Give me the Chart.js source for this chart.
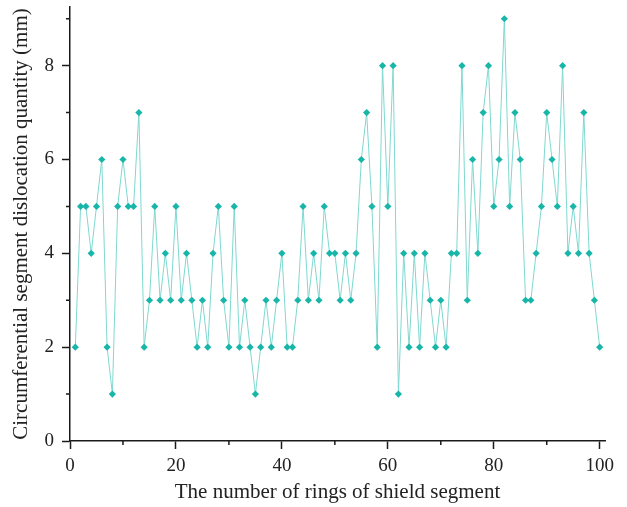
<!DOCTYPE html>
<html lang="en">
<head>
    <meta charset="UTF-8">
    <title>Circumferential segment dislocation</title>
    <script src="https://cdn.jsdelivr.net/npm/chart.js"></script>
    <style>
        html, body { margin: 0; padding: 0; background: #fff; }
        #wrap { width: 627px; height: 507px; }
    </style>
</head>
<body>

<div id="wrap">
    <canvas id="grafico" width="627" height="507"></canvas>
</div>

<script>
    // ring number 1..100
    const rings = [
        1, 2, 3, 4, 5, 6, 7, 8, 9, 10,
        11, 12, 13, 14, 15, 16, 17, 18, 19, 20,
        21, 22, 23, 24, 25, 26, 27, 28, 29, 30,
        31, 32, 33, 34, 35, 36, 37, 38, 39, 40,
        41, 42, 43, 44, 45, 46, 47, 48, 49, 50,
        51, 52, 53, 54, 55, 56, 57, 58, 59, 60,
        61, 62, 63, 64, 65, 66, 67, 68, 69, 70,
        71, 72, 73, 74, 75, 76, 77, 78, 79, 80,
        81, 82, 83, 84, 85, 86, 87, 88, 89, 90,
        91, 92, 93, 94, 95, 96, 97, 98, 99, 100
    ];
    // dislocation (mm)
    const dislocation = [
        2, 5, 5, 4, 5, 6, 2, 1, 5, 6,
        5, 5, 7, 2, 3, 5, 3, 4, 3, 5,
        3, 4, 3, 2, 3, 2, 4, 5, 3, 2,
        5, 2, 3, 2, 1, 2, 3, 2, 3, 4,
        2, 2, 3, 5, 3, 4, 3, 5, 4, 4,
        3, 4, 3, 4, 6, 7, 5, 2, 8, 5,
        8, 1, 4, 2, 4, 2, 4, 3, 2, 3,
        2, 4, 4, 8, 3, 6, 4, 7, 8, 5,
        6, 9, 5, 7, 6, 3, 3, 4, 5, 7,
        6, 5, 8, 4, 5, 4, 7, 4, 3, 2
    ];
    const xTicks = [0, 20, 40, 60, 80, 100];
    const xMinorTicks = [10, 30, 50, 70, 90];
    const yTicks = [0, 2, 4, 6, 8];
    const yMinorTicks = [1, 3, 5, 7, 9];

    const fonte = '"Liberation Serif", "DejaVu Serif", serif';
    const corEixo = '#1a1a1a';

    // short ticks between the labelled ones
    const minorTicksPlugin = {
        id: 'minorTicks',
        afterDraw(chart) {
            const ctx = chart.ctx;
            const x = chart.scales.x;
            const y = chart.scales.y;
            ctx.save();
            ctx.strokeStyle = corEixo;
            ctx.lineWidth = 1.5;
            ctx.beginPath();
            xMinorTicks.forEach(v => {
                const px = x.getPixelForValue(v);
                ctx.moveTo(px, x.top);
                ctx.lineTo(px, x.top + 4);
            });
            yMinorTicks.forEach(v => {
                const py = y.getPixelForValue(v);
                ctx.moveTo(y.right, py);
                ctx.lineTo(y.right - 4, py);
            });
            ctx.stroke();
            ctx.restore();
        }
    };

    new Chart(document.getElementById('grafico'), {
        type: 'line',
        data: {
            datasets: [{
                data: rings.map((r, i) => ({ x: r, y: dislocation[i] })),
                borderColor: '#7fd8d0',
                borderWidth: 1,
                pointStyle: 'rectRot',
                pointRadius: 3.6,
                pointBackgroundColor: '#17b6a8',
                pointBorderWidth: 0,
                tension: 0,
                clip: false
            }]
        },
        options: {
            responsive: false,
            animation: false,
            layout: { padding: { top: 7, right: 22, left: 0, bottom: 0 } },
            plugins: {
                legend: { display: false },
                tooltip: { enabled: false }
            },
            scales: {
                x: {
                    type: 'linear',
                    min: 0,
                    max: 101,
                    afterBuildTicks: s => { s.ticks = xTicks.map(v => ({ value: v })); },
                    afterFit: s => { s.height = 66; s.paddingLeft = 0; s.paddingRight = 0; },
                    grid: {
                        drawOnChartArea: false,
                        drawTicks: true,
                        tickLength: 8,
                        tickWidth: 1.5,
                        tickColor: corEixo
                    },
                    border: { display: true, color: corEixo, width: 1.5 },
                    ticks: {
                        color: '#222',
                        padding: 6,
                        maxRotation: 0,
                        font: { family: fonte, size: 19 }
                    },
                    title: {
                        display: true,
                        text: 'The number of rings of shield segment',
                        color: '#222',
                        padding: { top: 0, bottom: 2 },
                        font: { family: fonte, size: 21 }
                    }
                },
                y: {
                    min: 0,
                    max: 9.25,
                    afterBuildTicks: s => { s.ticks = yTicks.map(v => ({ value: v })); },
                    afterFit: s => { s.width = 70; s.paddingTop = 0; s.paddingBottom = 0; },
                    grid: {
                        drawOnChartArea: false,
                        drawTicks: true,
                        tickLength: 8,
                        tickWidth: 1.5,
                        tickColor: corEixo
                    },
                    border: { display: true, color: corEixo, width: 1.5 },
                    ticks: {
                        color: '#222',
                        padding: 8,
                        font: { family: fonte, size: 19 }
                    },
                    title: {
                        display: true,
                        text: 'Circumferential segment dislocation quantity (mm)',
                        color: '#222',
                        padding: { top: 9, bottom: 0 },
                        font: { family: fonte, size: 21 }
                    }
                }
            }
        },
        plugins: [minorTicksPlugin]
    });
</script>

</body>
</html>
